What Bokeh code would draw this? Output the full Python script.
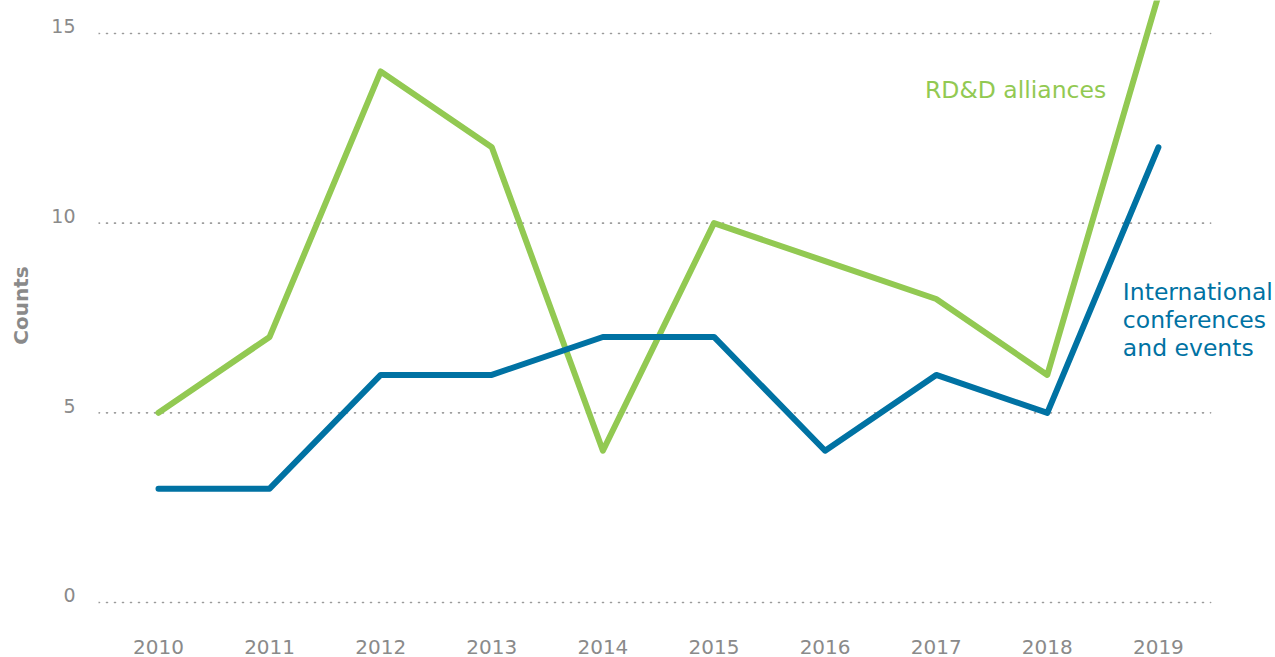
from bokeh.plotting import figure
from bokeh.models import Range1d, FixedTicker, LinearAxis, Label
from bokeh.embed import file_html
from bokeh.resources import INLINE

years = [2010, 2011, 2012, 2013, 2014, 2015, 2016, 2017, 2018, 2019]
rdd_alliances = [5, 7, 14, 12, 4, 10, 9, 8, 6, 16]
intl_events = [3, 3, 6, 6, 7, 7, 4, 6, 5, 12]
y_ticks = [0, 5, 10, 15]

GREEN = "#92c952"
BLUE = "#0072a3"
GRAY = "#8a8a8a"
FONT = "DejaVu Sans"

y_start, y_end = -0.211, 15.87
x_start, x_end = 2009.46, 2020.054
grid_end = 2019.47
shift = 0.185  # lift tick labels above their grid lines

p = figure(width=1275, height=657, output_backend="svg", toolbar_location=None,
           x_range=Range1d(x_start, x_end), y_range=Range1d(y_start, y_end),
           min_border_left=98, min_border_right=0, min_border_top=0, min_border_bottom=47,
           y_axis_location=None)
p.outline_line_color = None
p.background_fill_color = "white"
p.border_fill_color = "white"

p.extra_y_ranges = {"lab": Range1d(y_start - shift, y_end - shift)}
yax = LinearAxis(y_range_name="lab", ticker=FixedTicker(ticks=y_ticks), axis_label="Counts")
yax.axis_line_color = None
yax.major_tick_line_color = None
yax.minor_tick_line_color = None
yax.major_label_standoff = 17
yax.major_label_text_font = FONT
yax.major_label_text_font_size = "19px"
yax.major_label_text_color = GRAY
yax.axis_label_text_font = FONT
yax.axis_label_text_font_size = "20px"
yax.axis_label_text_font_style = "bold"
yax.axis_label_text_color = GRAY
yax.axis_label_standoff = 15
p.add_layout(yax, "left")

xax = p.xaxis[0]
xax.ticker = FixedTicker(ticks=years)
xax.axis_line_color = None
xax.major_tick_line_color = None
xax.minor_tick_line_color = None
xax.major_label_standoff = 23
xax.major_label_text_font = FONT
xax.major_label_text_font_size = "20px"
xax.major_label_text_color = GRAY

p.xgrid.grid_line_color = None
p.ygrid.grid_line_color = None
p.segment(x0=[x_start] * len(y_ticks), x1=[grid_end] * len(y_ticks), y0=y_ticks, y1=y_ticks,
          line_color="#9a9a9a", line_width=1.6, line_dash="1 7", line_cap="round")

p.line(years, rdd_alliances, line_color=GREEN, line_width=6, line_join="round", line_cap="round")
p.line(years, intl_events, line_color=BLUE, line_width=6, line_join="round", line_cap="round")

p.add_layout(Label(x=2018.53, y=13.5, text="RD&D alliances", text_align="right",
                   text_baseline="middle", text_font=FONT, text_font_size="23.5px",
                   text_color=GREEN))
p.add_layout(Label(x=2018.68, y=8.55, text="International\nconferences\nand events",
                   text_align="left", text_baseline="top", text_font=FONT,
                   text_font_size="23.5px", text_color=BLUE, text_line_height=1.0))

open("out.html", "w").write(file_html(p, INLINE))
